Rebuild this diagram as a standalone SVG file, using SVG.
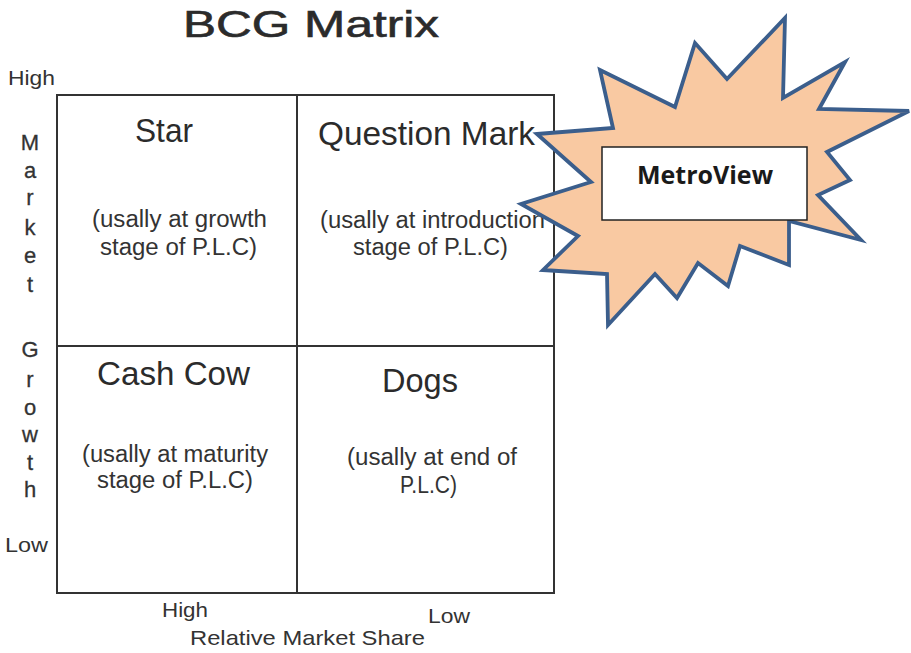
<svg xmlns="http://www.w3.org/2000/svg" width="911" height="653" viewBox="0 0 911 653">
  <defs>
    <style>
      .t { font-family: "Liberation Sans", Arial, sans-serif; fill: #2b2b2b; }
      .title { font-size: 37px; stroke: #2b2b2b; stroke-width: 0.6px; }
      .head { font-size: 34px; }
      .sub { font-size: 23px; fill: #333333; }
      .axis { font-size: 21px; fill: #333333; }
      .axisv { font-size: 22px; fill: #333333; text-anchor: middle; stroke: #333333; stroke-width: 0.3px; }
      .grid { fill: none; stroke: #333333; stroke-width: 2; }
      .burst { fill: #F9C9A2; stroke: #3B5E8C; stroke-width: 3.8; stroke-linejoin: miter; }
      .label-box { fill: #ffffff; stroke: #222222; stroke-width: 1.5; }
      .label { font-family: "Open Sans", "Liberation Sans", sans-serif; font-weight: bold; font-size: 25px; fill: #1a1a1a; text-anchor: middle; }
    </style>
  </defs>

  <rect width="911" height="653" fill="#ffffff"/>

  <!-- title -->
  <text class="t title" x="183" y="37" textLength="256" lengthAdjust="spacingAndGlyphs">BCG Matrix</text>

  <!-- axis labels -->
  <g id="axis-market-growth">
    <text class="t axis" x="8" y="85" textLength="47" lengthAdjust="spacingAndGlyphs">High</text>
    <text class="t axisv" x="30" y="150">M</text>
    <text class="t axisv" x="30" y="178">a</text>
    <text class="t axisv" x="30" y="205">r</text>
    <text class="t axisv" x="30" y="235">k</text>
    <text class="t axisv" x="30" y="263">e</text>
    <text class="t axisv" x="30" y="292">t</text>
    <text class="t axisv" x="30" y="357">G</text>
    <text class="t axisv" x="30" y="387">r</text>
    <text class="t axisv" x="30" y="415">o</text>
    <text class="t axisv" x="30" y="442">w</text>
    <text class="t axisv" x="30" y="470">t</text>
    <text class="t axisv" x="30" y="497">h</text>
    <text class="t axis" x="5" y="552" textLength="43" lengthAdjust="spacingAndGlyphs">Low</text>
  </g>
  <g id="axis-market-share">
    <text class="t axis" x="162" y="617" textLength="46" lengthAdjust="spacingAndGlyphs">High</text>
    <text class="t axis" x="428" y="623" textLength="42" lengthAdjust="spacingAndGlyphs">Low</text>
    <text class="t axis" x="190" y="645" textLength="235" lengthAdjust="spacingAndGlyphs">Relative Market Share</text>
  </g>

  <!-- matrix frame and dividers -->
  <g id="matrix-grid">
    <rect class="grid" x="57" y="95" width="497" height="498"/>
    <line class="grid" x1="297" y1="95" x2="297" y2="593"/>
    <line class="grid" x1="57" y1="346" x2="554" y2="346"/>
  </g>

  <g id="quadrant-star">
    <text class="t head" x="135" y="142" textLength="58" lengthAdjust="spacingAndGlyphs">Star</text>
    <text class="t sub" x="92" y="227" textLength="175" lengthAdjust="spacingAndGlyphs">(usally at growth</text>
    <text class="t sub" x="100" y="255" textLength="157" lengthAdjust="spacingAndGlyphs">stage of P.L.C)</text>
  </g>

  <g id="quadrant-question-mark">
    <text class="t head" x="318" y="145" textLength="217" lengthAdjust="spacingAndGlyphs">Question Mark</text>
    <text class="t sub" x="320" y="228" textLength="225" lengthAdjust="spacingAndGlyphs">(usally at introduction</text>
    <text class="t sub" x="353" y="255" textLength="155" lengthAdjust="spacingAndGlyphs">stage of P.L.C)</text>
  </g>

  <g id="quadrant-cash-cow">
    <text class="t head" x="97" y="385" textLength="153" lengthAdjust="spacingAndGlyphs">Cash Cow</text>
    <text class="t sub" x="82" y="462" textLength="186" lengthAdjust="spacingAndGlyphs">(usally at maturity</text>
    <text class="t sub" x="97" y="488" textLength="156" lengthAdjust="spacingAndGlyphs">stage of P.L.C)</text>
  </g>

  <g id="quadrant-dogs">
    <text class="t head" x="382" y="392" textLength="76" lengthAdjust="spacingAndGlyphs">Dogs</text>
    <text class="t sub" x="347" y="465" textLength="170" lengthAdjust="spacingAndGlyphs">(usally at end of</text>
    <text class="t sub" x="400" y="493" textLength="57" lengthAdjust="spacingAndGlyphs">P.L.C)</text>
  </g>

  <!-- explosion callout -->
  <g id="metroview">
    <polygon class="burst" points="537,134 613,128 600,70 675,107 695,43 727,79 785,18 783,98 845,62 819,109 909,111 827,152 850,180 818,195 861,240 789,221 789,265 740,246 728,286 698,263 677,298 655,274 608,325 607,274 543,270 578,236 521,204 591,182"/>
    <rect class="label-box" x="602" y="147" width="205" height="73"/>
    <text class="label" x="705" y="184">MetroView</text>
  </g>
</svg>
